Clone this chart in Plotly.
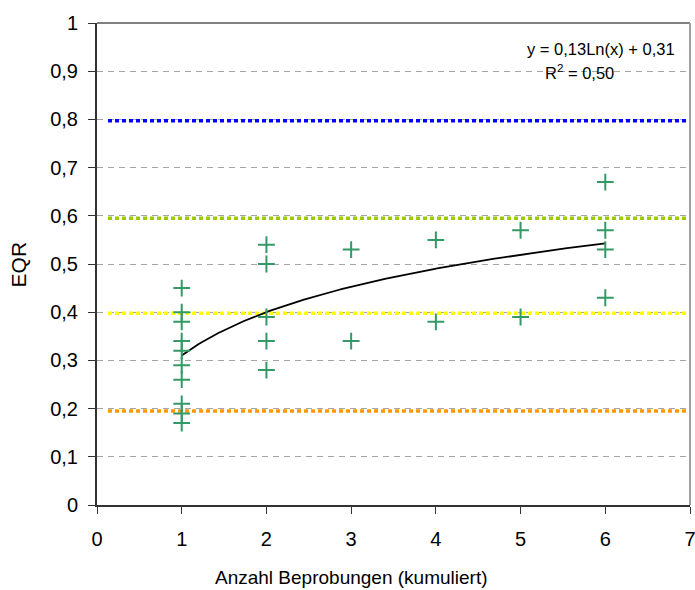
import numpy as np
import plotly.graph_objects as go

# ---- data ----
samples_x = [1]*10 + [2]*5 + [3]*2 + [4]*2 + [5]*2 + [6]*4
samples_eqr = [0.45, 0.40, 0.38, 0.34, 0.32, 0.29, 0.26, 0.21, 0.19, 0.17,
               0.54, 0.50, 0.39, 0.34, 0.28,
               0.53, 0.34,
               0.55, 0.38,
               0.57, 0.39,
               0.67, 0.57, 0.53, 0.43]

# logarithmic trend line (coefficients as printed on the chart)
trend_a = 0.13
trend_b = 0.31
trend_x_range = [1, 6]

# class boundary lines
class_levels = [0.797, 0.595, 0.398, 0.195]
class_colors = ["#0000FF", "#99CC00", "#FFFF00", "#FF9900"]
class_x = [0.13, 7]

y_tickvals = [0, 0.1, 0.2, 0.3, 0.4, 0.5, 0.6, 0.7, 0.8, 0.9, 1]
y_ticktext = ["0", "0,1", "0,2", "0,3", "0,4", "0,5", "0,6", "0,7", "0,8", "0,9", "1"]
x_tickvals = [0, 1, 2, 3, 4, 5, 6, 7]

FONT = "Liberation Sans, Arial, sans-serif"

fig = go.Figure()

for lvl, col in zip(class_levels, class_colors):
    fig.add_trace(go.Scatter(
        x=class_x, y=[lvl, lvl], mode="lines",
        line=dict(color=col, width=3.5, dash="4px,3px"),
        hoverinfo="skip", showlegend=False))

tx = np.linspace(trend_x_range[0], trend_x_range[1], 200)
fig.add_trace(go.Scatter(
    x=tx, y=trend_a*np.log(tx) + trend_b, mode="lines",
    line=dict(color="black", width=1.8), showlegend=False))

fig.add_trace(go.Scatter(
    x=samples_x, y=samples_eqr, mode="markers",
    marker=dict(symbol="cross-thin", size=12, color="#339966",
                line=dict(color="#339966", width=2)),
    showlegend=False))

fig.update_layout(
    width=695, height=590,
    margin=dict(l=97, r=5, t=23, b=85, autoexpand=False),
    paper_bgcolor="white", plot_bgcolor="white",
    font=dict(family=FONT, size=20, color="black"),
    xaxis=dict(range=[0, 7], tickvals=x_tickvals, ticks="outside", ticklen=7,
               tickcolor="#333333", showline=True, linecolor="#333333", linewidth=2,
               showgrid=False, zeroline=False, tickfont=dict(size=20),
               ticklabelstandoff=8, ticklabeloverflow="allow", automargin=False),
    yaxis=dict(range=[0, 1], tickvals=y_tickvals, ticktext=y_ticktext,
               ticks="outside", ticklen=7, tickcolor="#333333",
               showline=True, linecolor="#333333", linewidth=2,
               showgrid=True, gridcolor="#A6A6A6", griddash="6px,5px", gridwidth=1,
               zeroline=False, tickfont=dict(size=20), ticklabelstandoff=6,
               ticklabeloverflow="allow", automargin=False),
    shapes=[
        dict(type="line", xref="paper", yref="paper", x0=0, x1=1, y0=1, y1=1,
             line=dict(color="#808080", width=2)),
        dict(type="line", xref="paper", yref="paper", x0=1, x1=1, y0=0, y1=1,
             line=dict(color="#A0A0A0", width=2)),
    ],
    annotations=[
        dict(text="EQR", xref="paper", yref="paper", x=-0.1325, y=0.5,
             textangle=-90, showarrow=False, font=dict(size=21),
             xanchor="center", yanchor="middle"),
        dict(text="Anzahl Beprobungen (kumuliert)", xref="paper", yref="paper",
             x=0.43, y=-0.151, showarrow=False, font=dict(size=19),
             xanchor="center", yanchor="middle"),
        dict(text="y = 0,13Ln(x) + 0,31", xref="paper", yref="paper",
             x=(677-97.7)/592.7, y=(505-49)/482, showarrow=False,
             font=dict(size=16.5), xanchor="right", yanchor="middle"),
        dict(text="R<sup>2</sup> = 0,50", xref="paper", yref="paper",
             x=(580-97.7)/592.7, y=(505-72)/482, showarrow=False,
             font=dict(size=16.5), xanchor="center", yanchor="middle"),
    ],
)

fig.write_html("out.html")
